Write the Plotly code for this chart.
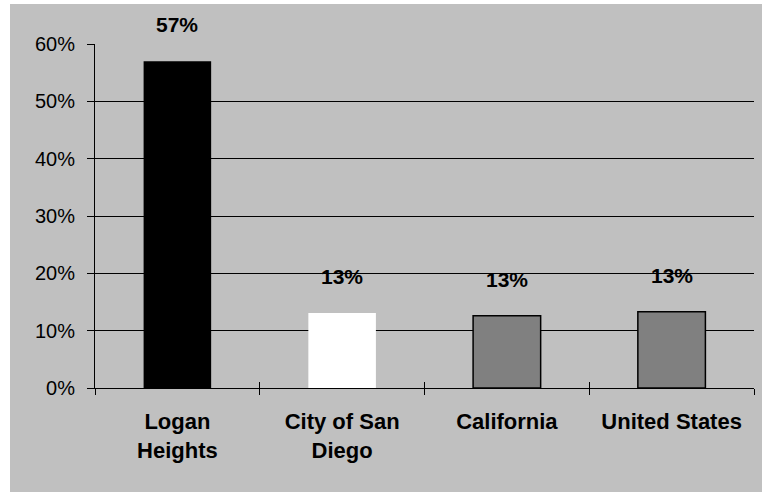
import plotly.graph_objects as go

categories = ["Logan Heights", "City of San Diego", "California", "United States"]
tick_text = ["Logan<br>Heights", "City of San<br>Diego", "California", "United States"]
values = [57.0, 13.1, 12.6, 13.3]
label_text = ["57%", "13%", "13%", "13%"]
bar_colors = ["#000000", "#FFFFFF", "#808080", "#808080"]
bar_line_widths = [0, 0, 1.5, 1.5]
y_ticks = [0, 10, 20, 30, 40, 50, 60]

BG = "#C0C0C0"
FONT = "Liberation Sans, Arial, sans-serif"

fig = go.Figure()
fig.add_trace(go.Bar(
    x=categories, y=values, width=0.41,
    marker=dict(color=bar_colors, line=dict(color="#000000", width=bar_line_widths)),
    showlegend=False, hoverinfo="skip",
))
# invisible helper trace so the overlay axis (inside ticks) is drawn
fig.add_trace(go.Scatter(
    x=categories, y=values, xaxis="x2", mode="markers",
    marker=dict(opacity=0), showlegend=False, hoverinfo="skip",
))

for c, v, t in zip(categories, values, label_text):
    fig.add_annotation(
        x=c, y=v, text="<b>%s</b>" % t, showarrow=False,
        yanchor="bottom", yshift=23,
        font=dict(family=FONT, size=21, color="#000000"),
    )

fig.update_layout(
    width=762, height=492,
    margin=dict(l=95, r=8, t=44, b=104),
    paper_bgcolor=BG,
    plot_bgcolor=BG,
    font=dict(family=FONT, color="#000000"),
    shapes=[
        dict(type="rect", xref="paper", yref="paper", layer="below",
             x0=-0.2, x1=-85 / 659, y0=-0.4, y1=1.2,
             fillcolor="#FFFFFF", line=dict(width=0)),
        dict(type="rect", xref="paper", yref="paper", layer="below",
             x0=-0.2, x1=1.1, y0=(388 - 4) / 344, y1=1.2,
             fillcolor="#FFFFFF", line=dict(width=0)),
    ],
    xaxis=dict(
        type="category", categoryarray=categories, range=[-0.5, 3.5],
        tickmode="array", tickvals=categories, ticktext=["<b>%s</b>" % t for t in tick_text],
        tickson="boundaries", ticks="outside", ticklen=6, tickcolor="#000000", tickwidth=1,
        showline=True, linecolor="#000000", linewidth=1,
        showgrid=False, zeroline=False,
        tickfont=dict(family=FONT, size=22, color="#000000"),
        ticklabelstandoff=14,
    ),
    xaxis2=dict(
        type="category", categoryarray=categories, range=[-0.5, 3.5],
        overlaying="x", anchor="y", side="bottom",
        tickson="boundaries", ticks="inside", ticklen=6, tickcolor="#000000", tickwidth=1,
        showticklabels=False, showgrid=False, zeroline=False, showline=False,
    ),
    yaxis=dict(
        range=[0, 60], tickvals=y_ticks, ticktext=["%d%%" % v for v in y_ticks],
        ticks="outside", ticklen=7, tickcolor="#000000", tickwidth=1,
        showline=True, linecolor="#000000", linewidth=1,
        showgrid=True, gridcolor="#000000", gridwidth=1,
        zeroline=False,
        tickfont=dict(family=FONT, size=20, color="#000000"),
        ticklabelstandoff=8,
    ),
)

fig.write_html(
    "out.html", config={"displayModeBar": False},
    post_script=("document.body.style.margin='0';"
                 "document.body.style.background='#C0C0C0';"
                 "document.documentElement.style.background='#C0C0C0';"),
)
